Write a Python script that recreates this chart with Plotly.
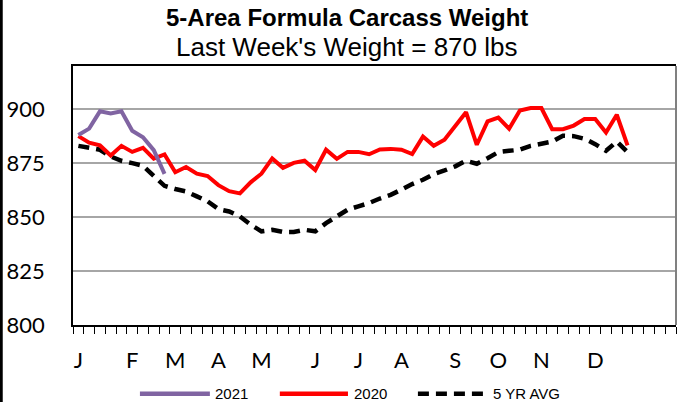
import plotly.graph_objects as go

# ---- data ----
month_labels = ["J", "F", "M", "A", "M", "J", "J", "A", "S", "O", "N", "D"]
month_weeks = [0, 5, 9, 13, 17, 22, 26, 30, 35, 39, 43, 48]   # week index where each month starts
n_weeks = 56                                                   # categories on the axis

w2021 = [888, 891, 899, 898, 899, 890, 887, 881, 870]
w2020 = [887.5, 884.5, 883.2, 878.5, 883, 880.2, 882.1, 877.1, 879, 870.8,
         873.2, 870.1, 869, 864.8, 862, 861, 866.1, 870.1, 877.2, 872.8,
         875.1, 876.1, 871.8, 881.2, 877, 880.2, 880.2, 879.1, 881.3, 881.6,
         881.2, 879.2, 887.3, 883, 885.8, 892, 898.6, 883.5, 894.3, 896.1,
         890.9, 899.4, 900.5, 900.5, 890.7, 890.7, 892.4, 895.4, 895.4, 889.2,
         897.4, 883.2]
avg5 = [883, 881.9, 881.2, 878.1, 876.1, 875, 873.8, 869.1, 864.5, 863,
        861.9, 859.6, 857.3, 853.7, 852.6, 850.3, 846.5, 843.4, 844.1, 843.1,
        843.1, 844.1, 843.4, 847.2, 850.3, 853.4, 855, 856.5, 858.6, 860.3,
        862.7, 865.3, 867.3, 869.9, 871.6, 873.5, 876.1, 874.7, 877.3, 880.1,
        880.7, 881.2, 883, 883.8, 885, 887.7, 887.5, 886.3, 883.8, 880.7,
        885, 880.1]
y_ticks = [800, 825, 850, 875, 900]

colors = {"2021": "#8064A2", "2020": "#FF0000", "5 YR AVG": "#000000"}

fig = go.Figure()
fig.add_trace(go.Scatter(x=list(range(len(avg5))), y=avg5, mode="lines",
                         line=dict(color=colors["5 YR AVG"], width=4.5, dash="11px,7px"),
                         name="5 YR AVG", showlegend=False))
fig.add_trace(go.Scatter(x=list(range(len(w2020))), y=w2020, mode="lines",
                         line=dict(color=colors["2020"], width=4),
                         name="2020", showlegend=False))
fig.add_trace(go.Scatter(x=list(range(len(w2021))), y=w2021, mode="lines",
                         line=dict(color=colors["2021"], width=4),
                         name="2021", showlegend=False))

tick_font = dict(family="Lato", size=22, color="black")

fig.update_layout(
    width=683, height=402,
    margin=dict(l=73, r=7, t=66, b=77),
    paper_bgcolor="white", plot_bgcolor="white",
    showlegend=False,
    xaxis=dict(
        range=[-0.5, n_weeks - 0.5],
        tickmode="array", tickvals=month_weeks, ticktext=month_labels,
        ticks="", tickfont=tick_font, ticklabelstandoff=15,
        showgrid=False, zeroline=False,
        showline=True, linecolor="black", linewidth=1.5, mirror=True,
        minor=dict(tickmode="array", tickvals=[i - 0.5 for i in range(n_weeks + 1)],
                   ticks="outside", ticklen=7, tickcolor="black", tickwidth=1,
                   showgrid=False),
    ),
    yaxis=dict(
        range=[800, 920],
        tickmode="array", tickvals=y_ticks,
        ticks="", tickfont=tick_font, ticklabelstandoff=22,
        showgrid=True, gridcolor="#A6A6A6", gridwidth=1.5,
        zeroline=False,
        showline=True, linecolor="black", linewidth=1.5, mirror=False,
    ),
    shapes=[
        # right plot border (grey)
        dict(type="line", xref="paper", yref="paper", x0=1, x1=1, y0=0, y1=1,
             line=dict(color="#808080", width=2)),
        # left chart border
        dict(type="line", xref="paper", yref="paper", x0=-0.119, x1=-0.119, y0=-0.31, y1=1.26,
             line=dict(color="black", width=3)),
    ],
    annotations=[
        dict(text="<b>5-Area Formula Carcass Weight</b>", xref="paper", yref="paper",
             x=0.454, y=1.189, xanchor="center", yanchor="middle", showarrow=False,
             font=dict(family="Liberation Sans", size=24, color="black")),
        dict(text="Last Week's Weight = 870 lbs", xref="paper", yref="paper",
             x=0.454, y=1.073, xanchor="center", yanchor="middle", showarrow=False,
             font=dict(family="Liberation Sans", size=26, color="black")),
    ],
)

# manual legend (long sample lines as in the reference)
legend_items = [("2021", 0.111, 0.227), ("2020", 0.343, 0.456), ("5 YR AVG", 0.572, 0.688)]
leg_y = -0.265
for name, x0, x1 in legend_items:
    dash = "11px,7px" if name == "5 YR AVG" else "solid"
    fig.add_shape(type="line", xref="paper", yref="paper", x0=x0, x1=x1, y0=leg_y, y1=leg_y,
                  line=dict(color=colors[name], width=4.5, dash=dash))
    fig.add_annotation(text=name, xref="paper", yref="paper", x=x1 + 0.006, y=leg_y,
                       xanchor="left", yanchor="middle", showarrow=False,
                       font=dict(family="Liberation Sans", size=15, color="black"))

fig.write_html("out.html", config={"displayModeBar": False},
               post_script="document.body.style.margin='0';")
